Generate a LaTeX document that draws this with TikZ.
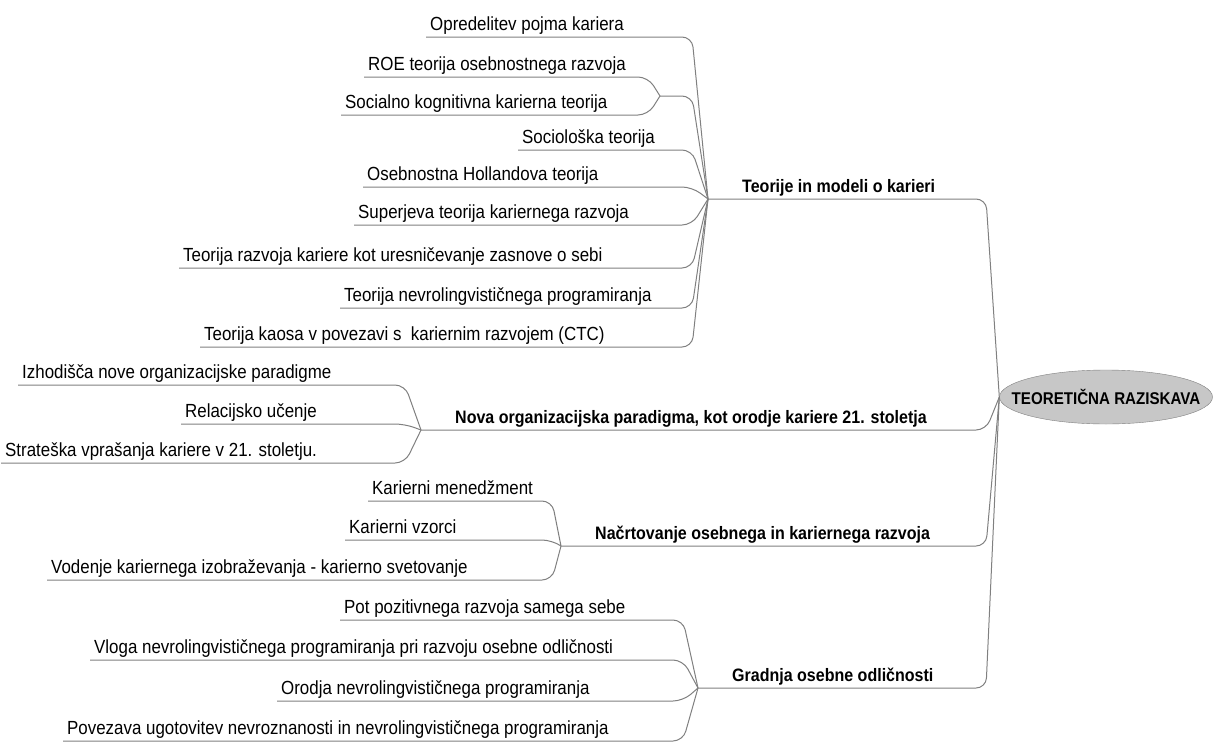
\documentclass[tikz,border=0pt]{standalone}
\usepackage{fontspec}
\setmainfont{Liberation Sans}[FakeStretch=0.89]
\usetikzlibrary{shapes.geometric}

\begin{document}
\begin{tikzpicture}[x=1pt,y=-1pt,
  link/.style={draw=black!50,line width=1pt,rounded corners=10pt},
  leaf node/.style={anchor=south west,inner xsep=4pt,inner ysep=2pt,text depth=4pt,
    font=\fontsize{19}{22}\selectfont},
  branch node/.style={anchor=south west,inner xsep=34pt,inner ysep=2pt,text depth=4pt,
    font=\fontsize{18}{22}\selectfont\bfseries},
  root node/.style={ellipse,draw=black!50,fill=black!22,minimum width=213pt,
    minimum height=54pt,inner xsep=-20pt,inner ysep=10pt,font=\fontsize{17}{20}\selectfont\bfseries}]

  \useasboundingbox[fill=white] (0,0) rectangle (1215,742);

  % centre
  \node[root node] (root) at (1106,397) {TEORETIČNA RAZISKAVA};
  \coordinate (t) at (986,0);

  % main branches
  \node[branch node] (b1) at (708,199) {Teorije in modeli o karieri};
  \node[branch node] (b2) at (421,430) {Nova organizacijska paradigma, kot orodje kariere 21. stoletja};
  \node[branch node] (b3) at (561,546) {Načrtovanje osebnega in kariernega razvoja};
  \node[branch node] (b4) at (698,688) {Gradnja osebne odličnosti};

  % leaves of b1
  \node[leaf node] (c1) at (426,37) {Opredelitev pojma kariera};
  \node[leaf node] (c2) at (364,77) {ROE teorija osebnostnega razvoja};
  \node[leaf node] (c3) at (341,115) {Socialno kognitivna karierna teorija};
  \node[leaf node] (c4) at (518,150) {Sociološka teorija};
  \node[leaf node] (c5) at (363,187) {Osebnostna Hollandova teorija};
  \node[leaf node] (c6) at (354,225) {Superjeva teorija kariernega razvoja};
  \node[leaf node] (c7) at (179,268) {Teorija razvoja kariere kot uresničevanje zasnove o sebi};
  \node[leaf node] (c8) at (340,308) {Teorija nevrolingvističnega programiranja};
  \node[leaf node] (c9) at (200,347) {Teorija kaosa v povezavi s~ kariernim razvojem (CTC)};
  \coordinate (k1) at (692,0);
  \coordinate (j12) at (660,96);
  \coordinate (k12) at (648,0);

  % leaves of b2
  \node[leaf node] (d1) at (18,385) {Izhodišča nove organizacijske paradigme};
  \node[leaf node] (d2) at (181,424) {Relacijsko učenje};
  \node[leaf node] (d3) at (1,463) {Strateška vprašanja kariere v 21. stoletju.};
  \coordinate (k2) at (405,0);

  % leaves of b3
  \node[leaf node] (e1) at (368,501) {Karierni menedžment};
  \node[leaf node] (e2) at (345,540) {Karierni vzorci};
  \node[leaf node] (e3) at (47,580) {Vodenje kariernega izobraževanja - karierno svetovanje};
  \coordinate (k3) at (552,0);

  % leaves of b4
  \node[leaf node] (f1) at (340,620) {Pot pozitivnega razvoja samega sebe};
  \node[leaf node] (f2) at (90,660) {Vloga nevrolingvističnega programiranja pri razvoju osebne odličnosti};
  \node[leaf node] (f3) at (277,701) {Orodja nevrolingvističnega programiranja};
  \node[leaf node] (f4) at (63,741) {Povezava ugotovitev nevroznanosti in nevrolingvističnega programiranja};
  \coordinate (k4) at (683,0);

  % branches to centre
  \foreach \b in {b1,b2,b3,b4}
    \draw[link] (\b.south west) -- (\b.south -| t) -- (root.west);

  % leaves to branches
  \foreach \c in {c1,c4,c5,c6,c7,c8,c9}
    \draw[link] (\c.south west) -- (\c.south -| k1) -- (b1.south west);
  \foreach \c in {c2,c3}
    \draw[link] (\c.south west) -- (\c.south -| k12) -- (j12);
  \draw[link] (j12) -- (j12 -| k1) -- (b1.south west);
  \foreach \c in {d1,d2,d3}
    \draw[link] (\c.south west) -- (\c.south -| k2) -- (b2.south west);
  \foreach \c in {e1,e2,e3}
    \draw[link] (\c.south west) -- (\c.south -| k3) -- (b3.south west);
  \foreach \c in {f1,f2,f3,f4}
    \draw[link] (\c.south west) -- (\c.south -| k4) -- (b4.south west);

\end{tikzpicture}
\end{document}
